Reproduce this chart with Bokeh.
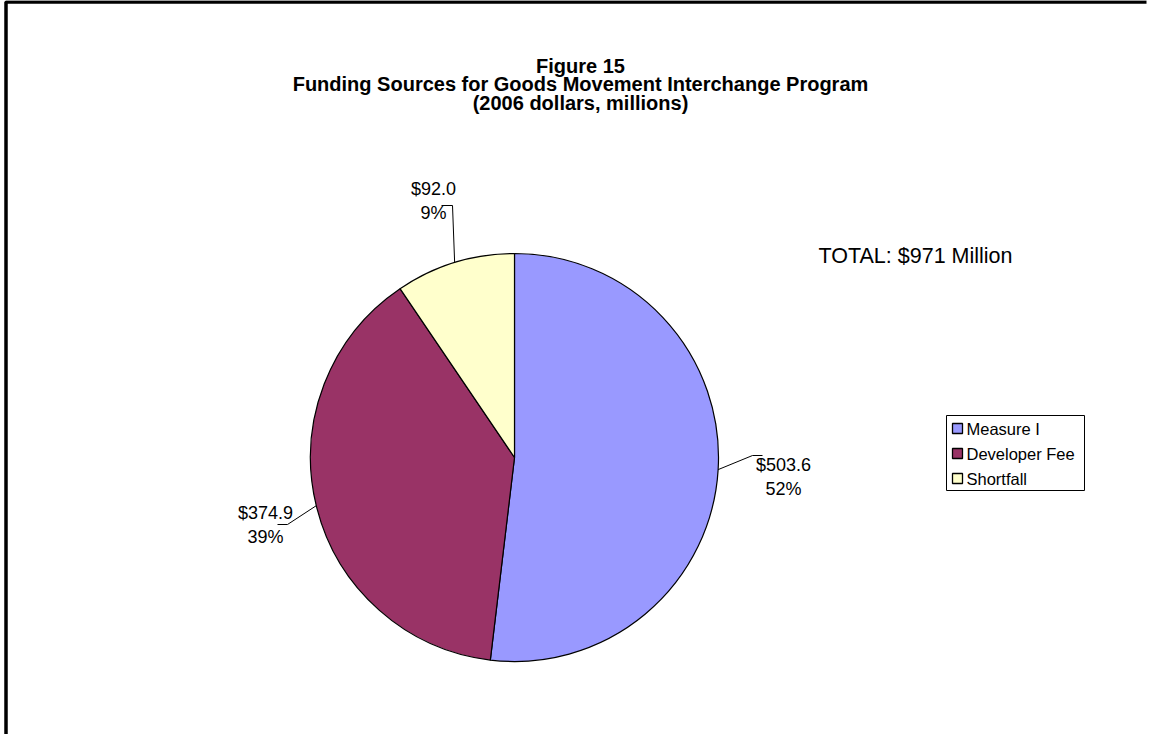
import math
from bokeh.plotting import figure
from bokeh.models import Range1d
from bokeh.core.properties import value
from bokeh.embed import file_html
from bokeh.resources import INLINE

# ---- data ----
categories = ["Measure I", "Developer Fee", "Shortfall"]
amounts = [503.6, 374.9, 92.0]
percent_labels = ["52%", "39%", "9%"]
colors = ["#9999FF", "#993366", "#FFFFCC"]
title_lines = ["Figure 15",
               "Funding Sources for Goods Movement Interchange Program",
               "(2006 dollars, millions)"]
total_text = "TOTAL: $971 Million"

# ---- layout (page pixel coordinates; data y = -page y) ----
W, H = 1148, 734
FONT = "Liberation Sans"
cx, cy, R = 514, 457, 204
# label centre (x, y of first line) and leader elbow/end points for each slice
label_pos = [(783, 464), (265, 512), (433, 188)]
leader_elbow = [(752, 455), (287, 524), (452, 205)]
leader_end = [(762, 455), (277, 524), (441, 205)]

p = figure(width=W, height=H, output_backend="svg", toolbar_location=None,
           x_range=Range1d(0, W), y_range=Range1d(-H, 0),
           min_border=0)
p.axis.visible = False
p.grid.visible = False
p.outline_line_color = None
p.background_fill_color = "white"
p.border_fill_color = "white"

# frame border (top and left, cropped like the reference)
p.line([5.5, 5.5, W - 2], [-(H + 5), -1.5, -1.5], line_color="black", line_width=3.5)

# pie
total = sum(amounts)
start = math.pi / 2
mids = []
for amt, col in zip(amounts, colors):
    sweep = 2 * math.pi * amt / total
    end = start - sweep
    p.wedge(x=cx, y=-cy, radius=R, start_angle=start, end_angle=end,
            direction="clock", fill_color=col, line_color="black", line_width=1.2)
    mids.append((start + end) / 2)
    start = end

# labels with leader lines
for i, amt in enumerate(amounts):
    a = mids[i]
    ex, ey = cx + R * math.cos(a), cy - R * math.sin(a)
    bx, by = leader_elbow[i]
    tx, ty = leader_end[i]
    p.line([ex, bx, tx], [-ey, -by, -ty], line_color="black", line_width=1)
    lx, ly = label_pos[i]
    p.text(x=[lx], y=[-ly], text=[f"${amt:.1f}"], text_align="center",
           text_baseline="middle", text_font=value(FONT), text_font_size="18px",
           text_color="black")
    p.text(x=[lx], y=[-(ly + 24)], text=[percent_labels[i]], text_align="center",
           text_baseline="middle", text_font=value(FONT), text_font_size="18px",
           text_color="black")

# title
for k, t in enumerate(title_lines):
    p.text(x=[580], y=[-(65 + 18.5 * k)], text=[t], text_align="center",
           text_baseline="middle", text_font=value(FONT), text_font_size="20px",
           text_font_style="bold", text_color="black")

# total annotation
p.text(x=[915], y=[-255], text=[total_text], text_align="center",
       text_baseline="middle", text_font=value(FONT), text_font_size="21.5px",
       text_color="black")

# legend box
lx0, ly0, lx1, ly1 = 946, 415, 1084, 490
p.quad(left=[lx0], right=[lx1], top=[-ly0], bottom=[-ly1],
       fill_color="white", line_color="black", line_width=1)
for i, (cat, col) in enumerate(zip(categories, colors)):
    yy = 428 + 25 * i
    p.rect(x=[957], y=[-yy], width=10, height=10, fill_color=col,
           line_color="black", line_width=1.3)
    p.text(x=[966], y=[-yy], text=[cat], text_align="left",
           text_baseline="middle", text_font=value(FONT), text_font_size="16.5px",
           text_color="black")

open("out.html", "w").write(file_html(p, INLINE))
